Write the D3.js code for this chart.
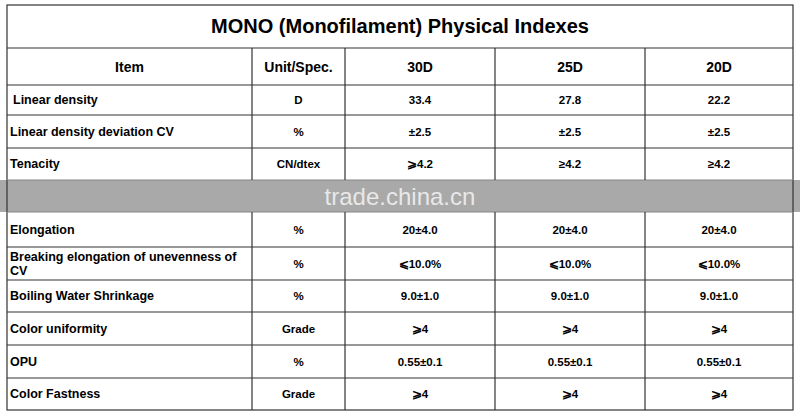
<!DOCTYPE html><html><head><meta charset="utf-8">
<script src="https://cdn.jsdelivr.net/npm/d3@7"></script>
<style>body{margin:0;background:#fff}</style></head><body><svg id="c" width="800" height="413"></svg>
<script>
const title = "MONO (Monofilament) Physical Indexes";
const headers = ["Item","Unit/Spec.","30D","25D","20D"];
const items = ["Linear density","Linear density deviation CV","Tenacity","","Elongation","Breaking elongation of unevenness of\nCV","Boiling Water Shrinkage","Color uniformity","OPU","Color Fastness"];
const units = ["D","%","CN/dtex","","%","%","%","Grade","%","Grade"];
const v30 = ["33.4","±2.5","⩾4.2","","20±4.0","⩽10.0%","9.0±1.0","⩾4","0.55±0.1","⩾4"];
const v25 = ["27.8","±2.5","≥4.2","","20±4.0","⩽10.0%","9.0±1.0","⩾4","0.55±0.1","⩾4"];
const v20 = ["22.2","±2.5","≥4.2","","20±4.0","⩽10.0%","9.0±1.0","⩾4","0.55±0.1","⩾4"];
const colEdges = [7,252,345,495,645,793];
const rowEdges = [48,85,115,148,180,212,247,280,312,345,378,410];

const svg = d3.select("#c");
const font = "Liberation Sans, Arial, sans-serif";
const x = d3.scaleLinear().domain([0,5]).range([0,5]);
const ry = i=>rowEdges[i];
// title
svg.append("text").attr("x",400).attr("y",33).attr("text-anchor","middle").attr("font-family",font)
 .attr("font-weight","bold").attr("font-size",20).text(title);
// watermark band
svg.append("rect").attr("x",0).attr("y",ry(4)).attr("width",800).attr("height",ry(5)-ry(4)).attr("fill","#a9a9a9");
svg.append("text").attr("x",400).attr("y",205).attr("text-anchor","middle").attr("font-family",font)
 .attr("font-size",24).attr("fill","#e8e8e8").text("trade.china.cn");
// header
headers.forEach((h,i)=>{
  svg.append("text").attr("x",(colEdges[i]+colEdges[i+1])/2).attr("y",(ry(0)+ry(1))/2+5)
   .attr("text-anchor","middle").attr("font-family",font).attr("font-weight","bold").attr("font-size",14).text(h);
});
const cols=[items,units,v30,v25,v20];
items.forEach((_,r)=>{
  const y0=ry(r+1), y1=ry(r+2);
  cols.forEach((arr,c)=>{
    const t=arr[r]; if(!t) return;
    const lines=t.split("\n");
    const left=c===0;
    const te=svg.append("text").attr("font-family",font).attr("font-weight","bold")
      .attr("font-size",left?12.5:11.5).attr("text-anchor",left?"start":"middle");
    const cx=left?colEdges[0]+3+(r===0?3:0):(colEdges[c]+colEdges[c+1])/2;
    const cy=(y0+y1)/2+4-(lines.length-1)*7;
    lines.forEach((l,k)=>te.append("tspan").attr("x",cx).attr("y",cy+k*14).text(l));
  });
});
// grid
const g=svg.append("g").attr("stroke","#333").attr("stroke-width",1.2).attr("fill","none");
g.append("rect").attr("x",7).attr("y",5).attr("width",786).attr("height",405);
rowEdges.slice(0,-1).forEach((y,i)=>{ if(i===4||i===5) {
  g.append("line").attr("x1",7).attr("x2",793).attr("y1",y).attr("y2",y).attr("stroke","#888");} else
  g.append("line").attr("x1",7).attr("x2",793).attr("y1",y).attr("y2",y);});
colEdges.slice(1,-1).forEach(xx=>{
  g.append("line").attr("x1",xx).attr("x2",xx).attr("y1",ry(0)).attr("y2",ry(4));
  g.append("line").attr("x1",xx).attr("x2",xx).attr("y1",ry(5)).attr("y2",410);
});
</script></body></html>
